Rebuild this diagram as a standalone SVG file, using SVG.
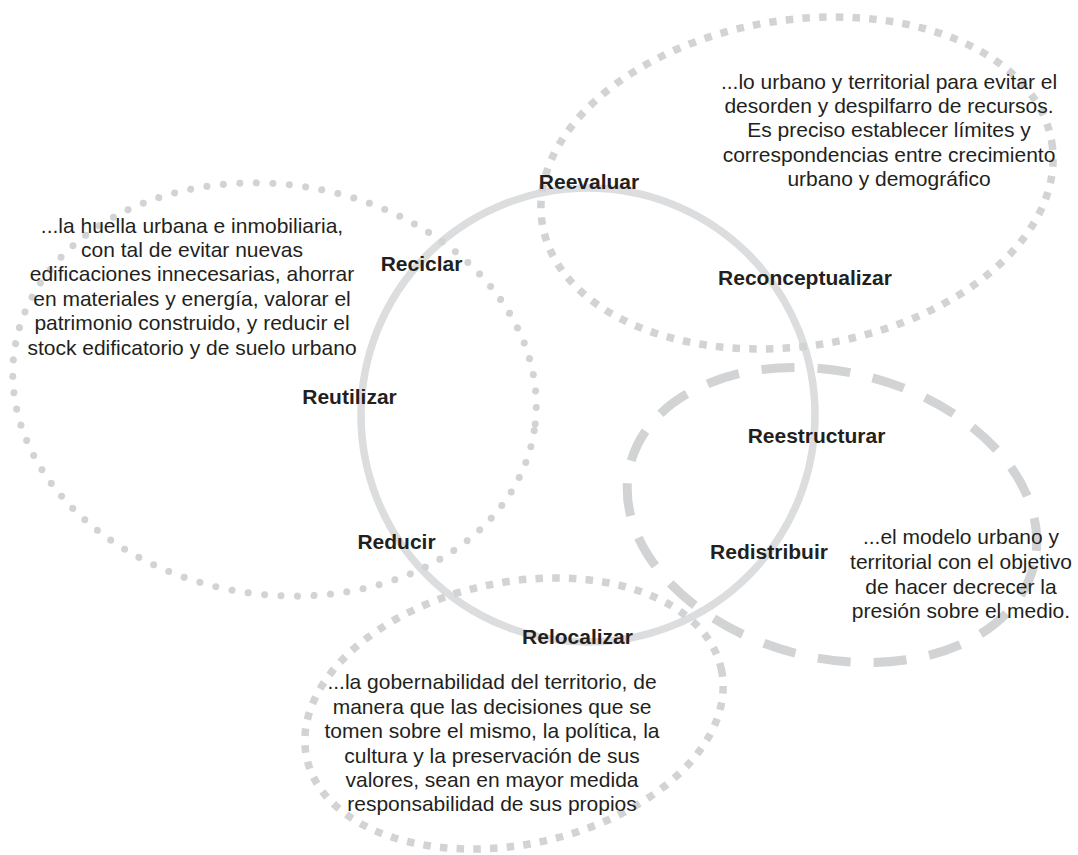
<svg xmlns="http://www.w3.org/2000/svg" width="1078" height="855" viewBox="0 0 1078 855">
<style>
.bg{fill:#ffffff}
.ring{fill:none;stroke:#dcdddf;stroke-width:7.5}
.round{fill:none;stroke:#d1d3d4;stroke-width:7;stroke-linecap:round;stroke-dasharray:0 16.5}
.square{fill:none;stroke:#d1d3d4;stroke-width:7.5;stroke-dasharray:7.5 9.2}
.dash{fill:none;stroke:#d1d3d4;stroke-width:9;stroke-dasharray:33 23}
text{font-family:"Liberation Sans",Arial,Helvetica,sans-serif;font-size:21px;fill:#231f20;text-anchor:middle}
.lbl{font-weight:bold}
</style>
<rect class="bg" x="0" y="0" width="1078" height="855"/>
<g id="connectors"></g>
<g id="shapes">
<circle id="central-ring" class="ring" cx="588" cy="415" r="227"/>
<ellipse id="left-ellipse" class="round" cx="274.5" cy="389.5" rx="263" ry="205" transform="rotate(9 274.5 389.5)"/>
<ellipse id="top-right-ellipse" class="square" cx="797" cy="183" rx="258" ry="163" transform="rotate(-9 797 183)"/>
<ellipse id="bottom-ellipse" class="square" cx="514" cy="713.5" rx="212" ry="131" transform="rotate(-12 514 713.5)"/>
<ellipse id="right-ellipse" class="dash" cx="832" cy="515" rx="208" ry="143" transform="rotate(14 832 515)"/>
</g>
<g id="node-left-text">
<text x="192" y="232.5">...la huella urbana e inmobiliaria,</text>
<text x="192" y="257">con tal de evitar nuevas</text>
<text x="192" y="281">edificaciones innecesarias, ahorrar</text>
<text x="192" y="305.5">en materiales y energía, valorar el</text>
<text x="192" y="330">patrimonio construido, y reducir el</text>
<text x="192" y="354.5">stock edificatorio y de suelo urbano</text>
</g>
<g id="node-top-right-text">
<text x="889" y="89">...lo urbano y territorial para evitar el</text>
<text x="889" y="113">desorden y despilfarro de recursos.</text>
<text x="889" y="137">Es preciso establecer límites y</text>
<text x="889" y="161.5">correspondencias entre crecimiento</text>
<text x="889" y="185.5">urbano y demográfico</text>
</g>
<g id="node-right-text">
<text x="961" y="544">...el modelo urbano y</text>
<text x="961" y="569">territorial con el objetivo</text>
<text x="961" y="594">de hacer decrecer la</text>
<text x="961" y="618">presión sobre el medio.</text>
</g>
<g id="node-bottom-text">
<text x="492" y="689">...la gobernabilidad del territorio, de</text>
<text x="492" y="713.5">manera que las decisiones que se</text>
<text x="492" y="738">tomen sobre el mismo, la política, la</text>
<text x="492" y="762.5">cultura y la preservación de sus</text>
<text x="492" y="787">valores, sean en mayor medida</text>
<text x="492" y="811">responsabilidad de sus propios</text>
</g>
<g id="node-reevaluar"><text class="lbl" x="589" y="189">Reevaluar</text></g>
<g id="node-reciclar"><text class="lbl" x="421.5" y="271">Reciclar</text></g>
<g id="node-reutilizar"><text class="lbl" x="349.5" y="404">Reutilizar</text></g>
<g id="node-reducir"><text class="lbl" x="396.5" y="549">Reducir</text></g>
<g id="node-relocalizar"><text class="lbl" x="577.5" y="644">Relocalizar</text></g>
<g id="node-reconceptualizar"><text class="lbl" x="805" y="285">Reconceptualizar</text></g>
<g id="node-reestructurar"><text class="lbl" x="816.5" y="443">Reestructurar</text></g>
<g id="node-redistribuir"><text class="lbl" x="769" y="559">Redistribuir</text></g>
</svg>
